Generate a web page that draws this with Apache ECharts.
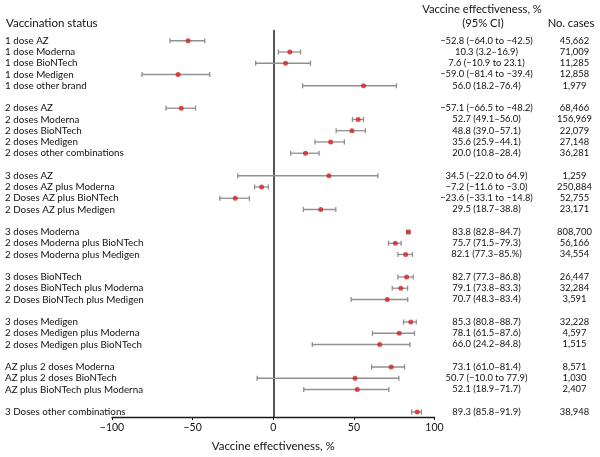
<!DOCTYPE html>
<html><head><meta charset="utf-8">
<script src="https://cdn.jsdelivr.net/npm/echarts@6/dist/echarts.min.js"></script>
<style>html,body{margin:0;padding:0;background:#fff}#c{width:600px;height:457px}</style>
</head><body><div id="c"></div>
<script>
// Rows (blank strings are spacer rows between groups)
var labels = ['1 dose AZ','1 dose Moderna','1 dose BioNTech','1 dose Medigen','1 dose other brand','',
  '2 doses AZ','2 doses Moderna','2 doses BioNTech','2 doses Medigen','2 doses other combinations','',
  '3 doses AZ','2 doses AZ plus Moderna','2 Doses AZ plus BioNTech','2 Doses AZ plus Medigen','',
  '3 doses Moderna','2 doses Moderna plus BioNTech','2 doses Moderna plus Medigen','',
  '3 doses BioNTech','2 doses BioNTech plus Moderna','2 Doses BioNTech plus Medigen','',
  '3 doses Medigen','2 doses Medigen plus Moderna','2 doses Medigen plus BioNTech','',
  'AZ plus 2 doses Moderna','AZ plus 2 doses BioNTech','AZ plus BioNTech plus Moderna','',
  '3 Doses other combinations'];
var estimate = [-52.8,10.3,7.6,-59.0,56.0,null,
  -57.1,52.7,48.8,35.6,20.0,null,
  34.5,-7.2,-23.6,29.5,null,
  83.8,75.7,82.1,null,
  82.7,79.1,70.7,null,
  85.3,78.1,66.0,null,
  73.1,50.7,52.1,null,
  89.3];
var lower = [-64.0,3.2,-10.9,-81.4,18.2,null,
  -66.5,49.1,39.0,25.9,10.8,null,
  -22.0,-11.6,-33.1,18.7,null,
  82.8,71.5,77.3,null,
  77.3,73.8,48.3,null,
  80.8,61.5,24.2,null,
  61.0,-10.0,18.9,null,
  85.8];
var upper = [-42.5,16.9,23.1,-39.4,76.4,null,
  -48.2,56.0,57.1,44.1,28.4,null,
  64.9,-3.0,-14.8,38.8,null,
  84.7,79.3,86.3,null,
  86.8,83.3,83.4,null,
  88.7,87.6,84.8,null,
  81.4,77.9,71.7,null,
  91.9];
var veText = ['−52.8 (−64.0 to −42.5)','10.3 (3.2–16.9)','7.6 (−10.9 to 23.1)','−59.0 (−81.4 to −39.4)','56.0 (18.2–76.4)','',
  '−57.1 (−66.5 to −48.2)','52.7 (49.1–56.0)','48.8 (39.0–57.1)','35.6 (25.9–44.1)','20.0 (10.8–28.4)','',
  '34.5 (−22.0 to 64.9)','−7.2 (−11.6 to −3.0)','−23.6 (−33.1 to −14.8)','29.5 (18.7–38.8)','',
  '83.8 (82.8–84.7)','75.7 (71.5–79.3)','82.1 (77.3–85.%)','',
  '82.7 (77.3–86.8)','79.1 (73.8–83.3)','70.7 (48.3–83.4)','',
  '85.3 (80.8–88.7)','78.1 (61.5–87.6)','66.0 (24.2–84.8)','',
  '73.1 (61.0–81.4)','50.7 (−10.0 to 77.9)','52.1 (18.9–71.7)','',
  '89.3 (85.8–91.9)'];
var cases = ['45,662','71,009','11,285','12,858','1,979','',
  '68,466','156,969','22,079','27,148','36,281','',
  '1,259','250,884','52,755','23,171','',
  '808,700','56,166','34,554','',
  '26,447','32,284','3,591','',
  '32,228','4,597','1,515','',
  '8,571','1,030','2,407','',
  '38,948'];
var xTicks = [-100, -50, 0, 50, 100];
var headers = {status:'Vaccination status', ve1:'Vaccine effectiveness, %', ve2:'(95% CI)', cases:'No. cases', xName:'Vaccine effectiveness, %'};

var FONT = 'Lato';
var pts = [], bars = [];
for (var i = 0; i < labels.length; i++) {
  if (estimate[i] !== null) {
    pts.push([estimate[i], i]);
    bars.push([lower[i], upper[i], i]);
  }
}
var chart = echarts.init(document.getElementById('c'), null, {renderer:'canvas'});
var rowTxt = {fontFamily: FONT, fontSize: 9.8, color: '#111'};
var numTxt = {fontFamily: FONT, fontSize: 9.4, color: '#111'};
chart.setOption({
  animation: false,
  textStyle: {fontFamily: FONT},
  grid: [
    {left: 112, right: 165.5, top: 35.1, height: 382.5},
    {left: 112, right: 165.5, top: 30.7, height: 392.6}
  ],
  xAxis: [
    {gridIndex: 0, type: 'value', min: -100, max: 100, show: false},
    {gridIndex: 1, type: 'value', min: -100, max: 100, interval: 50,
     splitLine: {show: false},
     axisLine: {onZero: false, lineStyle: {color: '#1a1a1a', width: 1.3}},
     axisTick: {show: true, length: 3, lineStyle: {color: '#1a1a1a', width: 1}},
     axisLabel: {fontFamily: FONT, fontSize: 10.5, color: '#111', margin: 5,
       formatter: function (v) { return v < 0 ? '−' + Math.abs(v) : String(v); }},
     name: headers.xName, nameLocation: 'middle', nameGap: 23,
     nameTextStyle: {fontFamily: FONT, fontSize: 11.5, color: '#111'}}
  ],
  yAxis: [
    {gridIndex: 0, type: 'category', data: labels, inverse: true, boundaryGap: true,
     axisLine: {show: false}, axisTick: {show: false}, splitLine: {show: false},
     axisLabel: Object.assign({align: 'left', margin: 107, interval: 0}, rowTxt)},
    {gridIndex: 0, type: 'category', data: veText, inverse: true, position: 'right',
     axisLine: {show: false}, axisTick: {show: false}, splitLine: {show: false},
     axisLabel: Object.assign({align: 'center', margin: 52, interval: 0}, numTxt)},
    {gridIndex: 0, type: 'category', data: cases, inverse: true, position: 'right',
     axisLine: {show: false}, axisTick: {show: false}, splitLine: {show: false},
     axisLabel: Object.assign({align: 'center', margin: 140, interval: 0}, numTxt)},
    {gridIndex: 1, type: 'value', min: 0, max: 1, show: true,
     axisLine: {show: true, onZero: true, lineStyle: {color: '#555', width: 2}},
     axisTick: {show: false}, axisLabel: {show: false}, splitLine: {show: false}}
  ],
  graphic: [
    {type: 'text', x: 6, y: 23, style: {text: headers.status, font: '11.5px ' + FONT, fill: '#111', textVerticalAlign: 'middle'}},
    {type: 'text', x: 482, y: 9, style: {text: headers.ve1, font: '11.2px ' + FONT, fill: '#111', textAlign: 'center', textVerticalAlign: 'middle'}},
    {type: 'text', x: 483, y: 23, style: {text: headers.ve2, font: '11.2px ' + FONT, fill: '#111', textAlign: 'center', textVerticalAlign: 'middle'}},
    {type: 'text', x: 571, y: 23, style: {text: headers.cases, font: '11.2px ' + FONT, fill: '#111', textAlign: 'center', textVerticalAlign: 'middle'}}
  ],
  series: [
    {type: 'custom', xAxisIndex: 0, yAxisIndex: 0, data: bars, z: 2,
     renderItem: function (params, api) {
       var a = api.coord([api.value(0), api.value(2)]);
       var b = api.coord([api.value(1), api.value(2)]);
       var h = 2.6;
       var st = {stroke: '#909090', lineWidth: 1.3};
       return {type: 'group', children: [
         {type: 'line', shape: {x1: a[0], y1: a[1], x2: b[0], y2: b[1]}, style: st},
         {type: 'line', shape: {x1: a[0], y1: a[1] - h, x2: a[0], y2: a[1] + h}, style: st},
         {type: 'line', shape: {x1: b[0], y1: b[1] - h, x2: b[0], y2: b[1] + h}, style: st}
       ]};
     }},
    {type: 'scatter', xAxisIndex: 0, yAxisIndex: 0, data: pts, symbol: 'circle', symbolSize: 5, z: 3,
     itemStyle: {color: '#d42020'}}
  ]
});
</script></body></html>
